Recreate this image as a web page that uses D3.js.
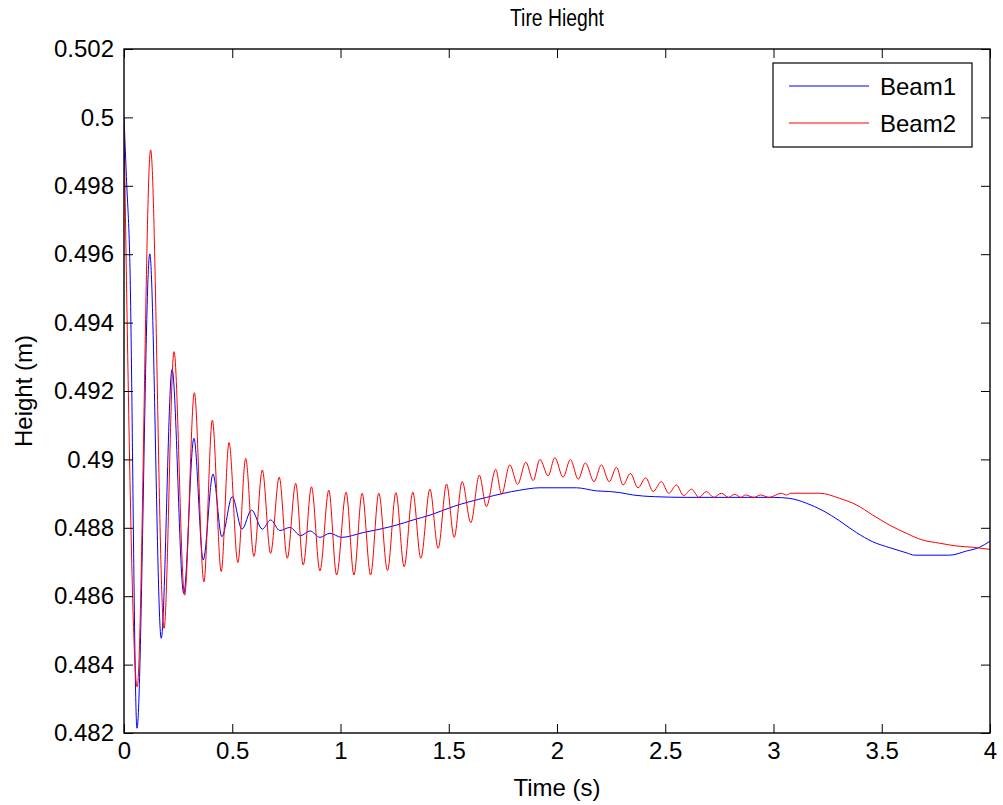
<!DOCTYPE html>
<html>
<head>
<meta charset="utf-8">
<script src="https://cdn.jsdelivr.net/npm/d3@7"></script>
<style>
  html, body { margin: 0; padding: 0; background: #fff; }
  svg { display: block; font-family: Arial, "Liberation Sans", sans-serif; }
</style>
</head>
<body>
<svg id="chart" width="1003" height="805"></svg>
<script>
// ---- data ----
const title = "Tire Hieght";
const xLabel = "Time (s)";
const yLabel = "Height (m)";
const seriesNames = ["Beam1", "Beam2"];
const seriesColors = ["#0000ff", "#ff0000"];

const xTicks = [0, 0.5, 1, 1.5, 2, 2.5, 3, 3.5, 4];
const xTickLabels = ["0", "0.5", "1", "1.5", "2", "2.5", "3", "3.5", "4"];
const yTicks = [0.482, 0.484, 0.486, 0.488, 0.49, 0.492, 0.494, 0.496, 0.498, 0.5, 0.502];
const yTickLabels = ["0.482", "0.484", "0.486", "0.488", "0.49", "0.492", "0.494", "0.496", "0.498", "0.5", "0.502"];

const beam1Time = [0, 0.011, 0.026, 0.060, 0.119, 0.172, 0.222, 0.276, 0.323, 0.366, 0.411, 0.452, 0.500, 0.545,
  0.589, 0.639, 0.677, 0.720, 0.766, 0.816, 0.859, 0.905, 0.951, 1.005, 1.105, 1.182, 1.259, 1.336, 1.413,
  1.520, 1.675, 1.828, 1.921, 2.090, 2.182, 2.244, 2.290, 2.350, 2.450, 2.600, 2.800, 3.000, 3.075, 3.152,
  3.229, 3.306, 3.383, 3.459, 3.536, 3.613, 3.652, 3.814, 3.891, 3.952, 4.000];
const beam1Height = [0.5000, 0.49827, 0.49603, 0.48214, 0.49601, 0.48477, 0.49263, 0.48608, 0.49062, 0.48706,
  0.48957, 0.48774, 0.48891, 0.48796, 0.48852, 0.48796, 0.48823, 0.48792, 0.48801, 0.48777, 0.48791, 0.48772,
  0.48784, 0.48772, 0.48786, 0.48796, 0.48808, 0.48823, 0.48837, 0.48862, 0.48889, 0.48910, 0.48917, 0.48917,
  0.48908, 0.48906, 0.48903, 0.48896, 0.48891, 0.48889, 0.48889, 0.48889, 0.48886, 0.48872, 0.48850, 0.48820,
  0.48786, 0.48759, 0.48742, 0.48727, 0.48720, 0.48720, 0.48732, 0.48743, 0.48761];

const beam2Time = [0, 0.061, 0.123, 0.185, 0.231, 0.280, 0.325, 0.369, 0.408, 0.449, 0.485, 0.526, 0.562, 0.600,
  0.639, 0.677, 0.717, 0.754, 0.793, 0.828, 0.866, 0.905, 0.946, 0.982, 1.026, 1.062, 1.100, 1.139, 1.177,
  1.217, 1.256, 1.294, 1.334, 1.371, 1.413, 1.451, 1.490, 1.525, 1.562, 1.602, 1.641, 1.674, 1.717, 1.744,
  1.782, 1.818, 1.856, 1.890, 1.921, 1.959, 1.990, 2.028, 2.062, 2.098, 2.131, 2.171, 2.205, 2.241, 2.275,
  2.305, 2.339, 2.374, 2.410, 2.444, 2.482, 2.516, 2.552, 2.585, 2.621, 2.656, 2.690, 2.724, 2.759, 2.793,
  2.820, 2.850, 2.870, 2.910, 2.940, 2.980, 3.036, 3.060, 3.080, 3.213, 3.306, 3.383, 3.459, 3.536, 3.613,
  3.690, 3.767, 3.844, 3.921, 4.000];
const beam2Height = [0.4998, 0.48335, 0.49905, 0.48506, 0.49315, 0.48603, 0.49195, 0.48642, 0.49115, 0.48672,
  0.49049, 0.48698, 0.49003, 0.48716, 0.48969, 0.48725, 0.48948, 0.48711, 0.48930, 0.48691, 0.48920, 0.48674,
  0.48910, 0.48662, 0.48904, 0.48662, 0.48901, 0.48662, 0.48901, 0.48675, 0.48903, 0.48686, 0.48904, 0.48711,
  0.48913, 0.48740, 0.48928, 0.48772, 0.48935, 0.48815, 0.48954, 0.48862, 0.48971, 0.48898, 0.48984, 0.48927,
  0.48992, 0.48938, 0.49000, 0.48952, 0.49005, 0.48948, 0.49000, 0.48942, 0.48990, 0.48935, 0.48984, 0.48935,
  0.48977, 0.48925, 0.48959, 0.48917, 0.48946, 0.48906, 0.48935, 0.48901, 0.48925, 0.48894, 0.48913, 0.48889,
  0.48906, 0.48889, 0.48901, 0.48889, 0.48898, 0.48889, 0.48896, 0.48889, 0.48896, 0.48889, 0.48901, 0.48896,
  0.48901, 0.48901, 0.48886, 0.48867, 0.48837, 0.48808, 0.48784, 0.48764, 0.48755, 0.48747, 0.48743, 0.48737];

// ---- layout ----
const W = 1003, H = 805;
const plot = { left: 124, top: 49, right: 990, bottom: 733 };
const tickLen = 9;
const fontSize = 24;
const fontFamily = "Arial, 'Liberation Sans', sans-serif";

const svg = d3.select("#chart");
svg.append("rect").attr("width", W).attr("height", H).attr("fill", "#fff");

const x = d3.scaleLinear().domain([0, 4]).range([plot.left, plot.right]);
const y = d3.scaleLinear().domain([0.482, 0.502]).range([plot.bottom, plot.top]);

svg.append("defs").append("clipPath").attr("id", "clip")
  .append("rect").attr("x", plot.left).attr("y", plot.top)
  .attr("width", plot.right - plot.left).attr("height", plot.bottom - plot.top);

// lines
const series = [
  beam1Time.map((t, i) => [t, beam1Height[i]]),
  beam2Time.map((t, i) => [t, beam2Height[i]])
];
const line = d3.line().x(d => x(d[0])).y(d => y(d[1])).curve(d3.curveMonotoneX);
const lineG = svg.append("g").attr("clip-path", "url(#clip)");
series.forEach((s, i) => {
  lineG.append("path").datum(s).attr("d", line)
    .attr("fill", "none").attr("stroke", seriesColors[i]).attr("stroke-width", 1);
});

// axes (MATLAB style: ticks inward on all four sides)
function styleAxis(g) {
  g.selectAll("path.domain").remove();
  g.selectAll("line").attr("stroke", "#000").attr("stroke-width", 1);
  g.selectAll("text").attr("fill", "#000").style("font-size", fontSize + "px")
    .style("font-family", fontFamily);
}
const fmtX = d => xTickLabels[xTicks.indexOf(d)];
const fmtY = d => yTickLabels[yTicks.indexOf(d)];

svg.append("g").attr("transform", `translate(0,${plot.bottom})`)
  .call(d3.axisBottom(x).tickValues(xTicks).tickFormat(fmtX).tickSizeInner(-tickLen).tickSizeOuter(0).tickPadding(9))
  .call(styleAxis);
svg.append("g").attr("transform", `translate(0,${plot.top})`)
  .call(d3.axisTop(x).tickValues(xTicks).tickFormat("").tickSizeInner(-tickLen).tickSizeOuter(0))
  .call(styleAxis);
svg.append("g").attr("transform", `translate(${plot.left},0)`)
  .call(d3.axisLeft(y).tickValues(yTicks).tickFormat(fmtY).tickSizeInner(-tickLen).tickSizeOuter(0).tickPadding(10))
  .call(styleAxis);
svg.append("g").attr("transform", `translate(${plot.right},0)`)
  .call(d3.axisRight(y).tickValues(yTicks).tickFormat("").tickSizeInner(-tickLen).tickSizeOuter(0))
  .call(styleAxis);

// box
svg.append("rect").attr("x", plot.left).attr("y", plot.top)
  .attr("width", plot.right - plot.left).attr("height", plot.bottom - plot.top)
  .attr("fill", "none").attr("stroke", "#000").attr("stroke-width", 1.4);

// titles
svg.append("text").attr("x", (plot.left + plot.right) / 2).attr("y", 26)
  .attr("text-anchor", "middle").style("font-size", "23px")
  .attr("textLength", 94).attr("lengthAdjust", "spacingAndGlyphs").text(title);
svg.append("text").attr("x", (plot.left + plot.right) / 2).attr("y", 796)
  .attr("text-anchor", "middle").style("font-size", fontSize + "px").text(xLabel);
svg.append("text").attr("transform", `translate(32,${(plot.top + plot.bottom) / 2}) rotate(-90)`)
  .attr("text-anchor", "middle").style("font-size", fontSize + "px").text(yLabel);

// legend
const leg = { x: 773, y: 63, w: 199, h: 84 };
const lg = svg.append("g");
lg.append("rect").attr("x", leg.x).attr("y", leg.y).attr("width", leg.w).attr("height", leg.h)
  .attr("fill", "#fff").attr("stroke", "#000").attr("stroke-width", 1.2);
seriesNames.forEach((name, i) => {
  const ly = leg.y + 23 + i * 37;
  lg.append("line").attr("x1", 789).attr("x2", 869).attr("y1", ly).attr("y2", ly)
    .attr("stroke", seriesColors[i]).attr("stroke-width", 1.2);
  lg.append("text").attr("x", 880).attr("y", ly).attr("dy", "0.36em")
    .style("font-size", fontSize + "px").text(name);
});
</script>
</body>
</html>
